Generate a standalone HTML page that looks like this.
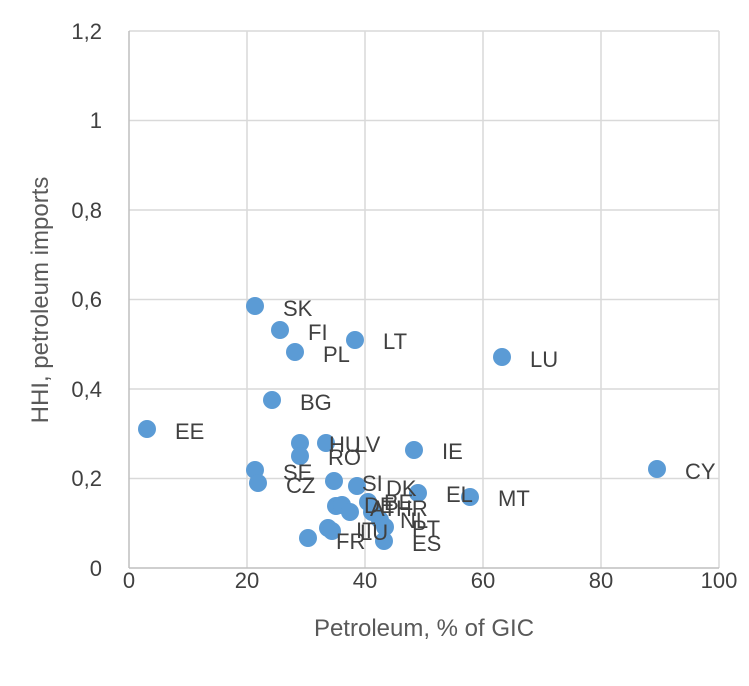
<!DOCTYPE html>
<html><head><meta charset="utf-8"><style>body{margin:0;background:#fff}svg{display:block}text{font-family:"Liberation Sans",sans-serif;fill:#404040}</style></head>
<body>
<svg width="749" height="686" viewBox="0 0 749 686">
<g stroke="#d9d9d9" stroke-width="1.5">
<line x1="129" y1="31" x2="719" y2="31"/><line x1="129" y1="120.5" x2="719" y2="120.5"/><line x1="129" y1="210" x2="719" y2="210"/><line x1="129" y1="299.5" x2="719" y2="299.5"/><line x1="129" y1="389" x2="719" y2="389"/><line x1="129" y1="478.5" x2="719" y2="478.5"/>
<line x1="247" y1="31" x2="247" y2="568"/><line x1="365" y1="31" x2="365" y2="568"/><line x1="483" y1="31" x2="483" y2="568"/><line x1="601" y1="31" x2="601" y2="568"/><line x1="719" y1="31" x2="719" y2="568"/>
</g>
<g stroke="#bfbfbf" stroke-width="1.5"><line x1="129" y1="31" x2="129" y2="568"/><line x1="129" y1="568" x2="719" y2="568"/></g>
<g font-size="22" text-anchor="end" style="fill:#595959">
<text x="102" y="39">1,2</text><text x="102" y="128">1</text><text x="102" y="218">0,8</text><text x="102" y="307">0,6</text><text x="102" y="397">0,4</text><text x="102" y="486">0,2</text><text x="102" y="576">0</text></g>
<g font-size="22" text-anchor="middle" style="fill:#595959">
<text x="129" y="588">0</text><text x="247" y="588">20</text><text x="365" y="588">40</text><text x="483" y="588">60</text><text x="601" y="588">80</text><text x="719" y="588">100</text></g>
<text x="424" y="636" font-size="24" text-anchor="middle" style="fill:#595959">Petroleum, % of GIC</text>
<text transform="translate(48,300) rotate(-90)" font-size="24" text-anchor="middle" style="fill:#595959">HHI, petroleum imports</text>
<g fill="#5b9bd5">
<circle cx="255" cy="306" r="9"/><circle cx="280" cy="330" r="9"/><circle cx="295" cy="352" r="9"/><circle cx="355" cy="340" r="9"/><circle cx="502" cy="357" r="9"/><circle cx="272" cy="400" r="9"/><circle cx="147" cy="429" r="9"/><circle cx="657" cy="469" r="9"/><circle cx="414" cy="450" r="9"/>
<circle cx="300" cy="443" r="9"/><circle cx="326" cy="443" r="9"/><circle cx="300" cy="456" r="9"/><circle cx="255" cy="470" r="9"/><circle cx="258" cy="483" r="9"/>
<circle cx="334" cy="481" r="9"/><circle cx="357" cy="486" r="9"/><circle cx="418" cy="493" r="9"/><circle cx="470" cy="497" r="9"/>
<circle cx="336" cy="506" r="9"/><circle cx="342" cy="505" r="9"/><circle cx="350" cy="512" r="9"/><circle cx="368" cy="502" r="9"/><circle cx="372" cy="512" r="9"/><circle cx="380" cy="520" r="9"/><circle cx="385" cy="527" r="9"/>
<circle cx="308" cy="538" r="9"/><circle cx="328" cy="528" r="9"/><circle cx="332" cy="531" r="9"/><circle cx="384" cy="541" r="9"/>
</g>
<g font-size="22">
<text x="283" y="316">SK</text><text x="308" y="340">FI</text><text x="323" y="362">PL</text><text x="383" y="349">LT</text><text x="530" y="367">LU</text><text x="300" y="410">BG</text><text x="175" y="439">EE</text><text x="685" y="479">CY</text><text x="442" y="459">IE</text>
<text x="329" y="452">HU</text><text x="355" y="452">LV</text><text x="328" y="465">RO</text><text x="283" y="480">SE</text><text x="286" y="493">CZ</text>
<text x="362" y="491">SI</text><text x="386" y="496">DK</text><text x="446" y="502">EL</text><text x="498" y="506">MT</text>
<text x="364" y="513">DE</text><text x="370" y="516">AT</text><text x="384" y="510">BE</text><text x="396" y="516">HR</text><text x="400" y="528">NL</text><text x="412" y="536">PT</text>
<text x="356" y="538">IT</text><text x="336" y="549">FR</text><text x="360" y="540">LU</text><text x="412" y="551">ES</text>
</g>
</svg>
</body></html>
